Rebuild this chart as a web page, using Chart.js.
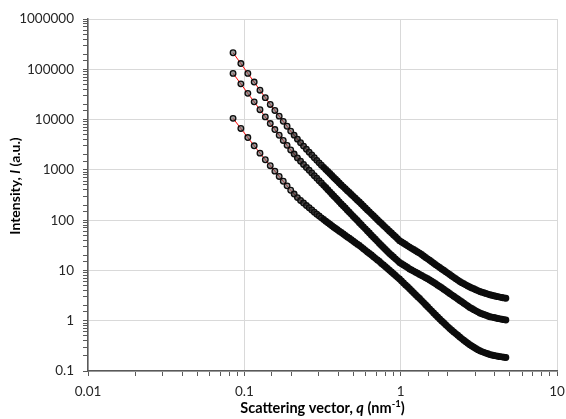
<!DOCTYPE html>
<html>
<head>
    <title>SAXS intensity</title>
    <style>
        body {
            margin: 0;
            background-color: white;
        }

        #chart-box {
            width: 566px;
            height: 419px;
            position: relative;
        }
    </style>
    <script src="https://cdn.jsdelivr.net/npm/chart.js"></script>
</head>
<body>

    <div id="chart-box">
        <canvas id="saxs-chart"></canvas>
    </div>

    <script>
        // Scattering vector q (nm^-1), shared by the three curves
        const q = [
            0.0847, 0.095, 0.1053, 0.1156, 0.1259, 0.1362, 0.1465, 0.1568, 0.1671, 0.1774,
            0.1877, 0.198, 0.2083, 0.2186, 0.2289, 0.2392, 0.2495, 0.2598, 0.2701, 0.2804,
            0.2907, 0.301, 0.3113, 0.3216, 0.3319, 0.3422, 0.3525, 0.3628, 0.3731, 0.3834,
            0.3937,
            0.405, 0.417, 0.4297, 0.4426, 0.4558, 0.4695, 0.4836, 0.4981, 0.513, 0.5284,
            0.5443, 0.5606, 0.5774, 0.5948, 0.6126, 0.631, 0.6499, 0.6694, 0.6895, 0.7102,
            0.7315, 0.7534, 0.776, 0.7993, 0.8233, 0.848, 0.8734, 0.8996, 0.9266, 0.9544,
            0.983, 1.0125, 1.0429, 1.0742, 1.1064, 1.1396, 1.1738, 1.209, 1.2453, 1.2827,
            1.3211, 1.3608, 1.4016, 1.4436, 1.4869, 1.5316, 1.5775, 1.6248, 1.6736, 1.7238,
            1.7755, 1.8288, 1.8836, 1.9401, 1.9983, 2.0583, 2.12, 2.1836, 2.2491, 2.3166,
            2.3861, 2.4577, 2.5314, 2.6074, 2.6856, 2.7662, 2.8491, 2.9346, 3.0227, 3.1133,
            3.2067, 3.3029, 3.402, 3.5041, 3.6092, 3.7175, 3.829, 3.9439, 4.0622, 4.1841,
            4.3096, 4.4389, 4.572, 4.7092
        ];

        // Intensity (a.u.) for the top, middle and bottom curves
        const intensityTop = [
            213000, 130000, 82900, 55700, 38400, 27300, 20000, 15200, 11700, 9210,
            7360, 5900, 4900, 4080, 3460, 2970, 2570, 2250, 1980, 1740,
            1545, 1378, 1240, 1121, 1019, 925, 844, 770, 706, 650,
            599,
            547, 501, 459, 421, 386, 354, 324, 297, 272.5, 250,
            229, 209, 191.6, 174.8, 159.5, 146.2, 133.5, 122.3, 111.6, 101.9,
            93.4, 85.6, 78.5, 71.9, 65.9, 60.4, 55.4, 50.8, 46.6, 42.7,
            39.1, 36.9, 34.7, 32.7, 30.8, 29.1, 27.5, 26.0, 24.6, 23.3,
            22.1, 20.7, 19.3, 18.1, 17.0, 15.9, 14.9, 13.9, 13.0, 12.2,
            11.4, 10.7, 10.05, 9.42, 8.84, 8.29, 7.77, 7.29, 6.84, 6.42,
            6.02, 5.72, 5.44, 5.17, 4.92, 4.68, 4.49, 4.31, 4.13, 3.97,
            3.81, 3.70, 3.59, 3.49, 3.38, 3.29, 3.21, 3.14, 3.07, 3.01,
            2.95, 2.89, 2.84, 2.79
        ];

        const intensityMiddle = [
            82900, 51300, 33200, 22500, 15700, 11300, 8330, 6330, 4880, 3840,
            3070, 2490, 2060, 1730, 1483, 1280, 1116, 982, 868, 767,
            684, 610, 547, 492, 445, 402, 365, 332, 303, 277.5,
            254,
            231, 210, 190.7, 174.0, 158.0, 143.6, 130.4, 118.5, 108.1, 98.2,
            89.2, 81.0, 73.6, 67.1, 61.0, 55.4, 50.3, 45.7, 41.7, 37.9,
            34.4, 31.4, 28.7, 26.2, 23.9, 21.8, 20.1, 18.5, 17.0, 15.7,
            14.4, 13.6, 12.8, 12.1, 11.4, 10.7, 10.2, 9.69, 9.21, 8.76,
            8.33, 7.92, 7.53, 7.16, 6.81, 6.47, 6.10, 5.75, 5.42, 5.10,
            4.81, 4.51, 4.23, 3.97, 3.72, 3.49, 3.27, 3.07, 2.88, 2.70,
            2.53, 2.38, 2.23, 2.09, 1.96, 1.84, 1.75, 1.66, 1.57, 1.50,
            1.42, 1.38, 1.33, 1.29, 1.24, 1.20, 1.18, 1.16, 1.13, 1.11,
            1.09, 1.07, 1.05, 1.03
        ];

        const intensityBottom = [
            10570, 6660, 4390, 3010, 2150, 1590, 1210, 942, 739, 593,
            481, 393, 330, 281, 246.5, 218.8, 195.1, 176.4, 159.5, 144.2,
            131.6, 120.6, 111.1, 102.8, 95.5, 88.8, 82.9, 77.4, 72.6, 68.4,
            64.4,
            60.4, 56.7, 52.9, 49.6, 46.3, 43.5, 40.8, 38.1, 35.7, 33.3,
            31.3, 29.1, 27.0, 25.1, 23.3, 21.7, 20.2, 18.7, 17.4, 16.2,
            15.0, 13.8, 12.8, 11.8, 10.9, 10.05, 9.29, 8.56, 7.92, 7.29,
            6.75, 6.16, 5.64, 5.15, 4.72, 4.31, 3.95, 3.60, 3.30, 3.01,
            2.76, 2.51, 2.29, 2.08, 1.90, 1.72, 1.57, 1.43, 1.30, 1.19,
            1.08, 0.991, 0.908, 0.833, 0.763, 0.700, 0.647, 0.599, 0.554, 0.513,
            0.474, 0.441, 0.411, 0.382, 0.357, 0.332, 0.314, 0.297, 0.281, 0.266,
            0.252, 0.243, 0.235, 0.227, 0.220, 0.212, 0.208, 0.204, 0.200, 0.197,
            0.193, 0.191, 0.188, 0.186
        ];

        // Tick labels, one per decade
        const xTickLabels = ['0.01', '0.1', '1', '10'];   // 10^-2 .. 10^1
        const yTickLabels = ['0.1', '1', '10', '100', '1000', '10000', '100000', '1000000']; // 10^-1 .. 10^6

        const FONT = 'Lato';
        const AXIS_COLOR = '#595959';
        const GRID_COLOR = '#d9d9d9';

        function decade(value) {
            const e = Math.log10(value);
            return Math.abs(e - Math.round(e)) < 1e-6 ? Math.round(e) : null;
        }

        function toPoints(values) {
            return q.map((x, i) => ({ x: x, y: values[i] }));
        }

        // where the markers pile up they read as a solid black band
        function markerFill(c) {
            const x = c.raw ? c.raw.x : 0;
            if (x < 0.2) return 'rgba(90, 90, 90, 0.6)';
            if (x < 0.32) return 'rgba(45, 45, 45, 0.75)';
            return '#0d0d0d';
        }

        function seriesDataset(values) {
            return {
                data: toPoints(values),
                showLine: true,
                borderColor: '#ff0000',
                borderWidth: 1,
                pointRadius: 2.8,
                pointBorderWidth: 1.3,
                pointBorderColor: '#0d0d0d',
                pointBackgroundColor: markerFill,
                tension: 0
            };
        }

        // Draw the axis titles by hand so that q and I can be italic and nm-1 gets a superscript
        function drawRuns(ctx, runs, cx, baseline, angle) {
            ctx.save();
            let total = 0;
            runs.forEach(r => {
                ctx.font = r.font;
                r.w = ctx.measureText(r.text).width;
                total += r.w;
            });
            ctx.translate(cx, baseline);
            ctx.rotate(angle);
            ctx.fillStyle = '#000000';
            ctx.textBaseline = 'alphabetic';
            let x = -total / 2;
            runs.forEach(r => {
                ctx.font = r.font;
                ctx.fillText(r.text, x, r.dy || 0);
                x += r.w;
            });
            ctx.restore();
        }

        const axisTitles = {
            id: 'axisTitles',
            afterDraw(chart) {
                const ctx = chart.ctx;
                const area = chart.chartArea;
                drawRuns(ctx, [
                    { text: 'Scattering vector, ', font: 'bold 14.5px ' + FONT },
                    { text: 'q', font: 'italic bold 14.5px ' + FONT },
                    { text: ' (nm', font: 'bold 14.5px ' + FONT },
                    { text: '-1', font: 'bold 9.5px ' + FONT, dy: -6 },
                    { text: ')', font: 'bold 14.5px ' + FONT }
                ], (area.left + area.right) / 2, 413, 0);
                drawRuns(ctx, [
                    { text: 'Intensity, ', font: 'bold 14px ' + FONT },
                    { text: 'I', font: 'italic bold 14px ' + FONT },
                    { text: ' (a.u.)', font: 'bold 14px ' + FONT }
                ], 20, 186, -Math.PI / 2);
            }
        };

        function buildChart() {
            const ctx = document.getElementById('saxs-chart').getContext('2d');
            new Chart(ctx, {
                type: 'scatter',
                data: {
                    datasets: [
                        seriesDataset(intensityTop),
                        seriesDataset(intensityMiddle),
                        seriesDataset(intensityBottom)
                    ]
                },
                options: {
                    responsive: true,
                    maintainAspectRatio: false,
                    animation: false,
                    layout: { padding: { top: 19, right: 9, left: 0, bottom: 0 } },
                    plugins: {
                        legend: { display: false },
                        tooltip: { enabled: false }
                    },
                    scales: {
                        x: {
                            type: 'logarithmic',
                            min: 0.01,
                            max: 10,
                            afterFit: scale => {
                                scale.height = 48;
                                scale.paddingLeft = 0;
                                scale.paddingRight = 0;
                            },
                            border: { display: true, color: AXIS_COLOR, width: 1.5 },
                            grid: {
                                color: c => decade(c.tick.value) !== null ? GRID_COLOR : 'rgba(0,0,0,0)',
                                tickColor: AXIS_COLOR,
                                tickLength: 5,
                                lineWidth: 1
                            },
                            ticks: {
                                autoSkip: false,
                                maxRotation: 0,
                                padding: 8,
                                color: '#262626',
                                font: { family: FONT, size: 13.5 },
                                callback: value => {
                                    const e = decade(value);
                                    return e === null ? '' : xTickLabels[e + 2];
                                }
                            }
                        },
                        y: {
                            type: 'logarithmic',
                            min: 0.1,
                            max: 1000000,
                            afterFit: scale => {
                                scale.width = 88;
                                scale.paddingTop = 0;
                                scale.paddingBottom = 0;
                            },
                            border: { display: true, color: AXIS_COLOR, width: 1.5 },
                            grid: {
                                color: c => decade(c.tick.value) !== null ? GRID_COLOR : 'rgba(0,0,0,0)',
                                tickColor: AXIS_COLOR,
                                tickLength: 5,
                                lineWidth: 1
                            },
                            ticks: {
                                autoSkip: false,
                                padding: 9,
                                color: '#262626',
                                font: { family: FONT, size: 13.5 },
                                callback: value => {
                                    const e = decade(value);
                                    return e === null ? '' : yTickLabels[e + 1];
                                }
                            }
                        }
                    }
                },
                plugins: [axisTitles]
            });
        }

        // Make sure the local fonts are ready before drawing on the canvas
        Promise.all([
            document.fonts.load('13.5px ' + FONT),
            document.fonts.load('bold 14.5px ' + FONT),
            document.fonts.load('italic bold 14.5px ' + FONT)
        ]).then(buildChart, buildChart);
    </script>
</body>

</html>
